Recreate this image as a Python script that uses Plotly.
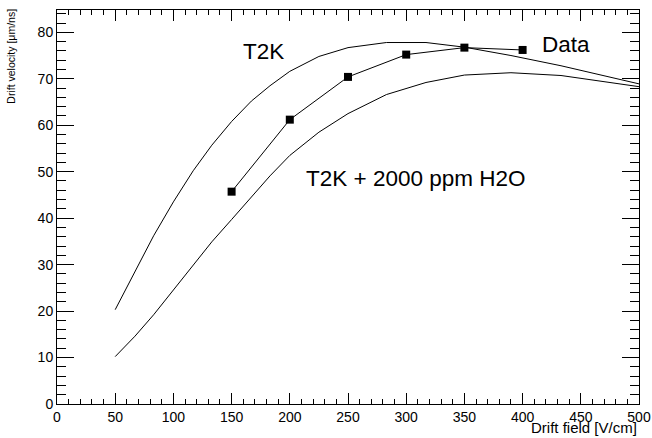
import plotly.graph_objects as go

# Curve field points (V/cm)
field_sim = [50, 67, 83, 100, 117, 133, 150, 167, 183, 200, 225, 250, 283, 317, 350, 390, 433, 500]
# T2K gas simulation (um/ns)
v_t2k = [20.3, 28.6, 36.2, 43.5, 50.2, 55.7, 60.8, 65.2, 68.5, 71.6, 74.8, 76.7, 77.8, 77.8, 76.8, 75.0, 72.8, 68.9]
# T2K + 2000 ppm H2O simulation (um/ns)
v_h2o = [10.2, 14.6, 19.2, 24.6, 29.8, 34.9, 39.7, 44.6, 49.1, 53.5, 58.5, 62.5, 66.6, 69.2, 70.8, 71.3, 70.7, 68.3]
# Measured data
field_data = [150, 200, 250, 300, 350, 400]
v_data = [45.7, 61.2, 70.4, 75.2, 76.7, 76.2]

FONT = "Liberation Sans, Arial, sans-serif"

fig = go.Figure()
fig.add_trace(go.Scatter(x=field_sim, y=v_t2k, mode="lines",
                         line=dict(color="black", width=1), showlegend=False))
fig.add_trace(go.Scatter(x=field_sim, y=v_h2o, mode="lines",
                         line=dict(color="black", width=1), showlegend=False))
fig.add_trace(go.Scatter(x=field_data, y=v_data, mode="lines+markers",
                         line=dict(color="black", width=1),
                         marker=dict(symbol="square", size=8, color="black"),
                         showlegend=False))

fig.update_layout(
    template="none",
    width=652, height=438,
    margin=dict(l=57, r=13, t=10, b=34, autoexpand=False),
    paper_bgcolor="white", plot_bgcolor="white",
    font=dict(family=FONT, size=14, color="black"),
    hovermode=False,
    xaxis=dict(range=[0, 500], showgrid=False, zeroline=False, automargin=False,
               showline=True, linecolor="black", linewidth=1, mirror="ticks",
               ticks="inside", ticklen=11, tickwidth=1, tickcolor="black",
               dtick=50, tick0=0,
               minor=dict(ticks="inside", ticklen=5, dtick=10, tickcolor="black", showgrid=False),
               tickfont=dict(size=14)),
    yaxis=dict(range=[0, 84.8], showgrid=False, zeroline=False, automargin=False,
               showline=True, linecolor="black", linewidth=1, mirror="ticks",
               ticks="inside", ticklen=17, tickwidth=1, tickcolor="black",
               dtick=10, tick0=0,
               minor=dict(ticks="inside", ticklen=9, dtick=2, tickcolor="black", showgrid=False),
               tickfont=dict(size=14)),
    annotations=[
        dict(x=177, y=75.8, xref="x", yref="y", text="T2K", showarrow=False,
             font=dict(size=22.5)),
        dict(x=437.5, y=77.3, xref="x", yref="y", text="Data", showarrow=False,
             font=dict(size=22.5)),
        dict(x=308.7, y=48.6, xref="x", yref="y", text="T2K + 2000 ppm H2O", showarrow=False,
             font=dict(size=22.5)),
        dict(x=1, y=-0.0855, xref="paper", yref="paper", xanchor="right", yanchor="bottom",
             text="Drift field [V/cm]", showarrow=False, font=dict(size=15)),
        dict(x=-0.0785, y=1.008, xref="paper", yref="paper", xanchor="center", yanchor="top",
             text="Drift velocity [μm/ns]", textangle=-90, showarrow=False, font=dict(size=10.5)),
    ],
)

fig.write_html("out.html",
               config={"displayModeBar": False, "responsive": False},
               post_script="document.body.style.margin='0';document.body.style.overflow='hidden';")
